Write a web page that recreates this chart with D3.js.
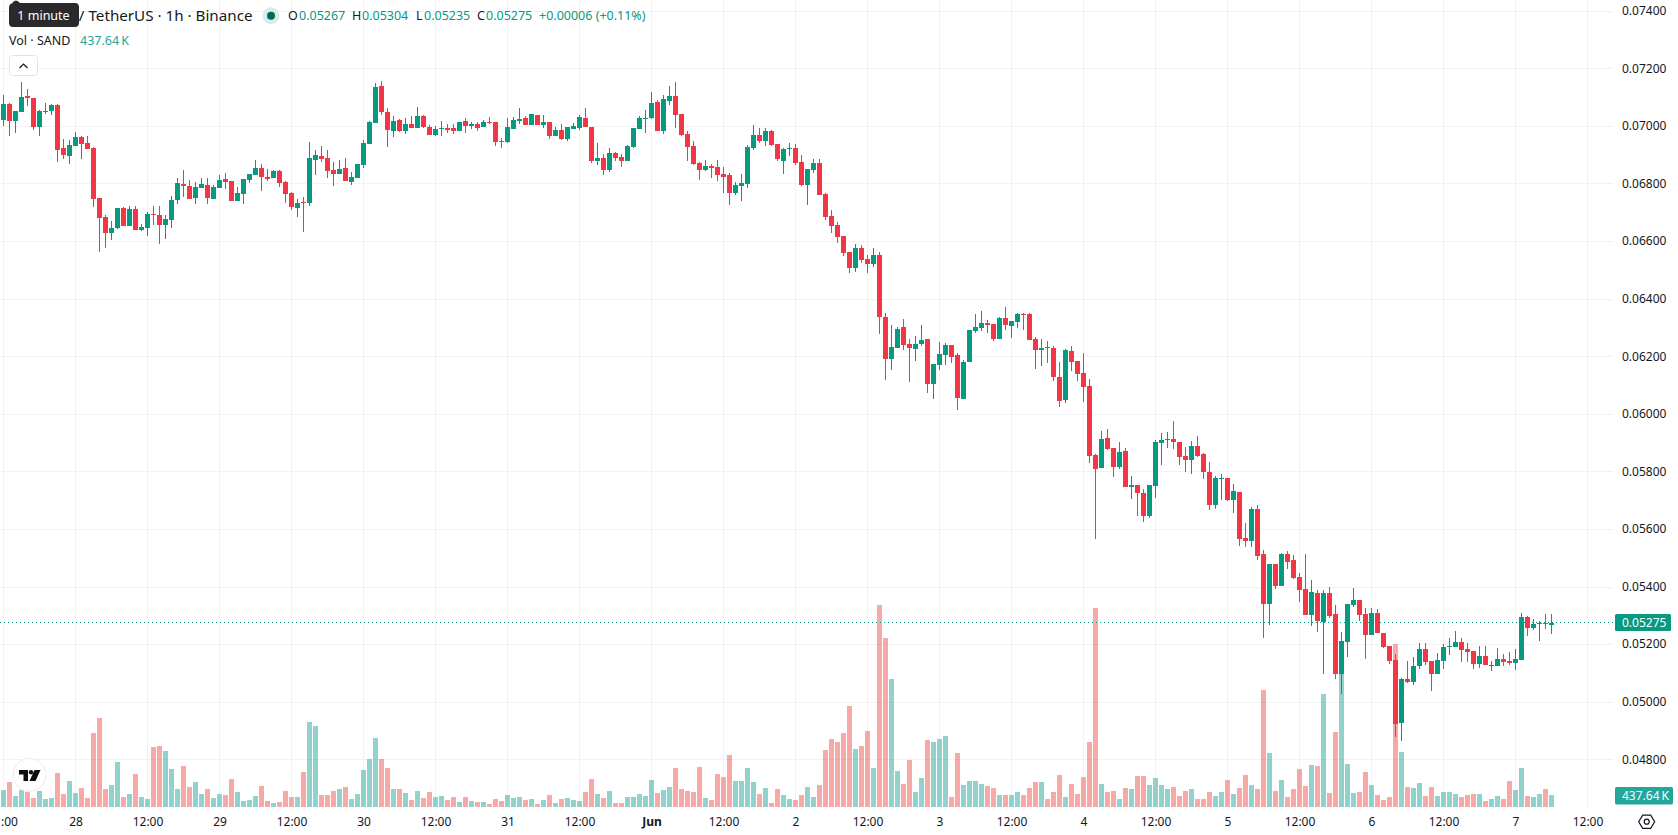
<!DOCTYPE html>
<html>
<head>
<meta charset="utf-8">
<title>SAND / TetherUS 1h</title>
<script src="https://cdn.jsdelivr.net/npm/d3@7"></script>
<style>
  html, body { margin: 0; padding: 0; background: #fff; overflow: hidden; }
  svg { display: block; }
  text { font-family: "Noto Sans", "Open Sans", sans-serif; fill: #131722; }
</style>
</head>
<body>
<svg id="chart" width="1678" height="835"></svg>
<script>
// Hourly candles, in units of the exchange price tick.
const PRICE_TICK = 0.00001;

const opens = [
  7020,7076,7017,7048,7104,7097,6996,7048,7052,7072,
  6923,6895,6930,6961,6941,6923,6750,6684,6628,6645,
  6715,6652,6711,6638,6645,6694,6690,6656,6673,6743,
  6798,6791,6750,6784,6795,6746,6784,6815,6809,6739,
  6763,6812,6829,6854,6822,6819,6843,6805,6767,6715,
  6736,6732,6882,6895,6889,6847,6833,6854,6805,6819,
  6864,6937,7010,7139,7048,6982,7020,6982,7007,6993,
  7034,6996,6968,6989,6993,6993,6982,7017,7000,7007,
  6996,7014,7014,6948,6944,6989,7017,7027,7003,7038,
  7003,7014,6965,6986,6955,6989,6993,7027,6996,6878,
  6889,6847,6906,6892,6878,6927,6989,7024,7027,7083,
  6982,7086,7104,7041,6972,6930,6871,6847,6861,6857,
  6833,6829,6767,6791,6798,6923,6968,6948,6982,6937,
  6878,6920,6923,6875,6795,6847,6871,6763,6687,6656,
  6618,6562,6506,6576,6538,6520,6552,6336,6190,6229,
  6301,6242,6225,6242,6260,6104,6170,6204,6239,6204,
  6051,6180,6288,6298,6315,6312,6260,6333,6305,6319,
  6347,6347,6260,6222,6232,6229,6128,6048,6218,6183,
  6142,6097,5857,5812,5916,5881,5815,5871,5746,5753,
  5725,5645,5749,5899,5909,5913,5902,5854,5840,5888,
  5860,5798,5683,5774,5777,5701,5729,5569,5558,5670,
  5513,5340,5478,5402,5513,5492,5433,5392,5301,5378,
  5277,5378,5305,5096,5208,5336,5353,5305,5232,5308,
  5239,5194,5145,4926,5079,5069,5124,5183,5142,5096,
  5142,5190,5190,5207,5183,5176,5131,5159,5124,5124,
  5148,5142,5135,5145,5294,5256,5270,5273,5267
];

const highs = [
  7107,7078,7052,7152,7128,7097,7055,7079,7076,7076,
  6954,6951,6979,6965,6965,6927,6750,6690,6670,6715,
  6718,6722,6722,6659,6701,6722,6722,6690,6756,6819,
  6847,6812,6805,6819,6819,6795,6829,6836,6809,6788,
  6815,6833,6882,6868,6850,6847,6847,6809,6770,6746,
  6753,6944,6916,6930,6916,6875,6882,6889,6840,6868,
  6951,7017,7149,7156,7062,7034,7024,7027,7034,7066,
  7038,7003,7000,7017,7007,7007,7014,7027,7014,7014,
  7020,7031,7014,6958,7027,7031,7062,7034,7041,7038,
  7038,7014,6996,7007,6996,7010,7038,7062,6996,6941,
  6902,6923,6909,6902,6934,6993,7034,7055,7118,7090,
  7107,7139,7152,7041,6982,6948,6875,6882,6868,6882,
  6857,6836,6805,6833,6934,7003,6993,6993,6986,6937,
  6923,6941,6937,6899,6850,6885,6885,6767,6708,6666,
  6618,6562,6590,6586,6552,6576,6562,6350,6309,6302,
  6329,6260,6270,6308,6260,6173,6249,6246,6239,6211,
  6187,6291,6347,6357,6326,6312,6336,6371,6322,6350,
  6350,6350,6267,6260,6253,6235,6180,6225,6235,6183,
  6211,6121,5860,5940,5947,5881,5902,5881,5784,5753,
  5739,5753,5909,5933,5937,5975,5902,5885,5906,5923,
  5864,5833,5784,5791,5777,5756,5729,5621,5676,5683,
  5527,5478,5478,5517,5524,5510,5447,5513,5423,5388,
  5388,5399,5336,5242,5340,5395,5353,5326,5326,5322,
  5239,5194,5166,5082,5142,5155,5204,5204,5142,5169,
  5201,5221,5246,5221,5204,5176,5194,5194,5142,5187,
  5166,5173,5183,5308,5298,5287,5280,5305,5304
];

const lows = [
  7000,6965,6975,7048,7069,6986,6965,7041,7038,6875,
  6885,6868,6930,6885,6920,6718,6562,6576,6604,6642,
  6652,6652,6638,6635,6618,6656,6590,6607,6645,6729,
  6753,6746,6729,6784,6729,6746,6784,6781,6739,6739,
  6729,6802,6829,6774,6809,6819,6788,6732,6708,6684,
  6632,6722,6829,6875,6819,6791,6833,6809,6795,6819,
  6854,6937,7010,7038,6927,6961,6979,6972,6993,6993,
  6993,6968,6965,6965,6975,6972,6982,6975,6989,6982,
  6996,7007,6930,6923,6941,6989,7007,7003,7003,7003,
  6993,6955,6965,6951,6948,6989,6986,6996,6871,6864,
  6829,6840,6878,6857,6878,6923,6989,6975,7024,6982,
  6972,7072,6993,6965,6878,6864,6812,6843,6819,6809,
  6767,6725,6760,6739,6784,6916,6941,6930,6930,6878,
  6833,6895,6864,6791,6725,6836,6760,6673,6628,6593,
  6548,6489,6493,6524,6489,6510,6277,6117,6152,6229,
  6222,6110,6183,6235,6072,6051,6152,6170,6176,6013,
  6051,6180,6281,6288,6281,6253,6260,6291,6263,6298,
  6291,6256,6156,6166,6176,6114,6024,6038,6149,6114,
  6041,5829,5565,5812,5874,5781,5808,5746,5704,5645,
  5624,5638,5708,5822,5881,5878,5822,5798,5791,5850,
  5774,5666,5670,5701,5697,5656,5541,5538,5538,5492,
  5221,5267,5392,5402,5461,5426,5346,5301,5263,5242,
  5096,5291,5079,5027,5155,5329,5280,5149,5232,5239,
  5187,5131,4878,4864,5065,5058,5114,5128,5037,5096,
  5114,5162,5190,5138,5138,5114,5117,5128,5107,5124,
  5124,5128,5110,5145,5228,5249,5211,5253,5235
];

const closes = [
  7076,7017,7052,7100,7097,6996,7052,7052,7072,6916,
  6899,6934,6961,6937,6920,6746,6680,6628,6645,6715,
  6652,6711,6638,6649,6694,6690,6656,6677,6743,6802,
  6791,6746,6788,6798,6750,6788,6812,6805,6739,6767,
  6815,6833,6854,6822,6815,6843,6802,6763,6718,6732,
  6732,6889,6899,6885,6843,6833,6850,6809,6823,6868,
  6941,7014,7135,7048,6986,7017,6982,7007,6993,7034,
  6996,6968,6989,6993,6986,6982,7014,7000,7007,6993,
  7014,7010,6944,6944,6996,7020,7024,7003,7041,7003,
  7014,6965,6986,6955,6996,7000,7031,6996,6878,6889,
  6847,6906,6889,6878,6930,6993,7027,7027,7079,6982,
  7093,7104,7038,6968,6927,6868,6847,6861,6854,6829,
  6823,6767,6795,6802,6927,6968,6948,6982,6934,6885,
  6920,6923,6871,6795,6850,6871,6760,6684,6652,6614,
  6559,6506,6576,6534,6520,6552,6336,6190,6232,6295,
  6239,6229,6242,6256,6104,6173,6208,6239,6197,6055,
  6180,6291,6301,6315,6308,6260,6333,6308,6322,6347,
  6343,6256,6222,6229,6229,6128,6044,6222,6180,6138,
  6093,5853,5808,5912,5878,5815,5867,5746,5753,5725,
  5645,5753,5902,5909,5913,5902,5850,5840,5888,5854,
  5798,5683,5777,5777,5701,5732,5565,5558,5670,5506,
  5340,5478,5402,5513,5485,5430,5388,5301,5381,5280,
  5378,5298,5096,5211,5340,5353,5301,5232,5308,5239,
  5190,5142,4923,5079,5069,5124,5183,5138,5096,5145,
  5190,5194,5207,5180,5173,5131,5159,5128,5128,5148,
  5138,5135,5148,5294,5256,5270,5273,5270,5275
];

// Traded volume per candle, in thousands of SAND.
const volumes = [
  620,912,401,620,547,328,584,292,328,1240,
  474,948,511,693,328,2699,3246,656,802,1641,
  365,474,1204,365,292,2188,2225,2042,1386,656,
  1495,729,912,474,656,328,474,438,1021,547,
  219,255,401,766,219,146,182,584,365,365,
  1276,3100,2954,438,438,584,656,729,292,474,
  1349,1751,2517,1751,1422,656,656,511,255,584,
  328,547,365,401,255,365,182,365,219,182,
  182,109,292,219,438,328,365,255,292,109,
  255,438,146,292,328,255,219,547,1021,474,
  328,584,146,146,365,365,474,401,985,511,
  620,729,1422,656,584,547,1459,328,255,1204,
  1094,1896,948,948,1422,912,474,693,146,656,
  438,292,255,438,729,365,802,2079,2480,2371,
  2699,3684,2115,2225,2772,1422,7367,6164,4668,1313,
  839,1714,547,1058,2444,2371,2480,2589,365,1969,
  802,948,948,839,766,693,438,438,438,547,
  438,693,912,912,292,547,1167,365,839,474,
  1094,2371,7258,839,547,584,292,693,656,1131,
  1131,802,1058,802,656,729,401,584,656,292,
  292,547,401,547,985,474,693,1167,802,656,
  4267,1969,584,985,365,656,1386,766,1532,1495,
  4121,511,2735,5471,1568,511,547,1276,802,438,
  255,365,5945,2006,729,693,875,401,729,401,
  547,547,474,365,438,474,474,219,292,401,
  292,948,620,1422,401,365,474,656,437.64
];

// Candle indexes of the time axis ticks and the text drawn at each.
const timeTicks = [0,12,24,36,48,60,72,84,96,108,120,132,144,156,168,180,192,204,216,228,240,252,264];
const timeLabels = [":00","28","12:00","29","12:00","30","12:00","31","12:00","Jun","12:00","2",
                    "12:00","3","12:00","4","12:00","5","12:00","6","12:00","7","12:00"];
const priceTicks = [0.074,0.072,0.07,0.068,0.066,0.064,0.062,0.06,0.058,0.056,0.054,0.052,0.05,0.048];

const lastPrice = 0.05275;
const lastVolumeLabel = "437.64\u2009K";
const ohlcLegend = [["O","0.05267"],["H","0.05304"],["L","0.05235"],["C","0.05275"]];
const changeLegend = "+0.00006 (+0.11%)";

const UP = "#089981", DOWN = "#f23645", GRID = "#f2f2f3";
const VOL_UP = "#26a69a", VOL_DOWN = "#ef5350";

const candles = opens.map((o, i) => ({
  i, open: o * PRICE_TICK, high: highs[i] * PRICE_TICK, low: lows[i] * PRICE_TICK,
  close: closes[i] * PRICE_TICK, volume: volumes[i]
}));

const svg = d3.select("#chart");

const x = d3.scaleLinear().domain([0, 264]).range([3.5, 1587.5]);
const y = d3.scaleLinear().domain([0.072, 0.048]).range([68.3, 759.3]);
const v = d3.scaleLinear().domain([0, 7367]).range([807, 605]);
const px = n => Math.round(n);
const isUp = d => d.close >= d.open;

// Grid
const grid = svg.append("g").attr("stroke", GRID).attr("stroke-width", 1);
grid.selectAll("line.h").data(priceTicks).join("line").attr("class", "h")
  .attr("x1", 0).attr("x2", 1613)
  .attr("y1", d => px(y(d)) + 0.5).attr("y2", d => px(y(d)) + 0.5);
grid.selectAll("line.v").data(timeTicks).join("line").attr("class", "v")
  .attr("x1", d => x(d)).attr("x2", d => x(d))
  .attr("y1", 0).attr("y2", 807);

// Volume pane, sharing the candle area
svg.append("g").attr("shape-rendering", "crispEdges")
  .selectAll("rect").data(candles).join("rect")
  .attr("x", d => x(d.i) - 2.5).attr("width", 5)
  .attr("y", d => px(v(d.volume))).attr("height", d => 807 - px(v(d.volume)))
  .attr("fill", d => isUp(d) ? VOL_UP : VOL_DOWN).attr("fill-opacity", 0.5);

// Last price line
const lastY = Math.floor(y(lastPrice)) + 0.5;
svg.append("line")
  .attr("x1", 0).attr("x2", 1613)
  .attr("y1", lastY).attr("y2", lastY)
  .attr("stroke", UP).attr("stroke-width", 1).attr("stroke-dasharray", "1 3");

// Candles: wick first, then body
const marks = svg.append("g").attr("shape-rendering", "crispEdges");
marks.selectAll("rect.wick").data(candles).join("rect").attr("class", "wick")
  .attr("x", d => x(d.i) - 0.5).attr("width", 1)
  .attr("y", d => px(y(d.high)))
  .attr("height", d => Math.max(1, px(y(d.low)) - px(y(d.high))))
  .attr("fill", d => isUp(d) ? UP : DOWN);
marks.selectAll("rect.body").data(candles).join("rect").attr("class", "body")
  .attr("x", d => x(d.i) - 2.5).attr("width", 5)
  .attr("y", d => px(y(Math.max(d.open, d.close))))
  .attr("height", d => Math.max(1, px(y(Math.min(d.open, d.close))) - px(y(Math.max(d.open, d.close)))))
  .attr("fill", d => isUp(d) ? UP : DOWN);

// Price axis
const priceAxis = svg.append("g").attr("transform", "translate(1622,0)")
  .call(d3.axisRight(y).tickValues(priceTicks).tickSize(0).tickPadding(0)
    .tickFormat(d3.format(".5f")));
priceAxis.select(".domain").remove();
priceAxis.selectAll("text").style("font-size", "12px").style("font-family", null);

// Time axis; the leading label is the part left visible at the pane's edge
const timeAxis = svg.append("g").attr("transform", "translate(0,817.5)")
  .call(d3.axisBottom(x).tickValues(timeTicks).tickSize(0).tickPadding(0)
    .tickFormat((d, i) => timeLabels[i]));
timeAxis.select(".domain").remove();
timeAxis.selectAll("text").style("font-size", "12px").style("font-family", null)
  .style("font-weight", (d, i) => timeLabels[i] === "Jun" ? 700 : 400)
  .attr("dx", (d, i) => i === 0 ? 5.5 : 0);

// Value tags on the price axis
function tag(top, width, h, fill, label) {
  svg.append("rect").attr("x", 1615).attr("y", top).attr("width", width).attr("height", h)
    .attr("rx", 1.5).attr("fill", fill);
  svg.append("text").attr("x", 1622).attr("y", top + h / 2 + 4.2)
    .style("font-size", "12px").style("fill", "#fff").text(label);
}
tag(614, 56, 17, UP, d3.format(".5f")(lastPrice));
tag(787, 58, 17.5, VOL_UP, lastVolumeLabel);

// Legend rows
svg.append("text").attr("x", 252.5).attr("y", 21).attr("text-anchor", "end")
  .style("font-size", "15.2px").text("SAND / TetherUS · 1h · Binance");
svg.append("circle").attr("cx", 271).attr("cy", 15.7).attr("r", 8.5).attr("fill", "#d9eeea");
svg.append("circle").attr("cx", 271).attr("cy", 15.7).attr("r", 4).attr("fill", "#006b5b");

const legendX = [288, 352, 416, 477];
const legendValueX = [299, 362, 424, 486];
ohlcLegend.forEach(([k, val], i) => {
  svg.append("text").attr("x", legendX[i]).attr("y", 20.3).style("font-size", "12.5px").text(k);
  svg.append("text").attr("x", legendValueX[i]).attr("y", 20.3)
    .style("font-size", "12.5px").style("fill", UP).text(val);
});
svg.append("text").attr("x", 539).attr("y", 20.3).style("font-size", "12.5px").style("fill", UP).text(changeLegend);

svg.append("text").attr("x", 9).attr("y", 44.8).style("font-size", "12.5px").text("Vol · SAND");
svg.append("text").attr("x", 80).attr("y", 44.8).style("font-size", "12.5px").style("fill", VOL_UP)
  .text(lastVolumeLabel);

// Collapse button
svg.append("rect").attr("x", 9.5).attr("y", 55.5).attr("width", 28).attr("height", 20).attr("rx", 3)
  .attr("fill", "#fff").attr("stroke", "#e0e3eb");
svg.append("path").attr("d", "M19.5 68 L23.5 64 L27.5 68").attr("fill", "none")
  .attr("stroke", "#131722").attr("stroke-width", 1.2);

// Hover tooltip over the start of the title
svg.append("path").attr("d", "M9 8 Q9 3 14 3 L12 3 Q16 -2 20 3 L75 3 Q79 3 79 7 L79 23 Q79 27 75 27 L13 27 Q9 27 9 23 Z")
  .attr("fill", "#2a2a2c");
svg.append("text").attr("x", 43.5).attr("y", 20).attr("text-anchor", "middle")
  .style("font-size", "12.5px").style("fill", "#fff").text("1 minute");

// Brand badge
svg.append("circle").attr("cx", 29.5).attr("cy", 775).attr("r", 16.5)
  .attr("fill", "#fff").attr("stroke", "#ebebeb").attr("stroke-width", 1);
svg.append("path").attr("d", "M19 770 H28 V781 H23.5 V774.5 H19 Z").attr("fill", "#0c0c0c");
svg.append("circle").attr("cx", 31).attr("cy", 772.3).attr("r", 2.2).attr("fill", "#0c0c0c");
svg.append("path").attr("d", "M34.5 770 H40.5 L35.5 781 H29.5 Z").attr("fill", "#0c0c0c");

// Settings glyph
const hex = d3.range(6).map(k => {
  const a = Math.PI / 3 * k;
  return [1646.7 + 8 * Math.cos(a), 821.7 + 7.6 * Math.sin(a)];
});
svg.append("path").attr("d", d3.line()(hex) + "Z").attr("fill", "none")
  .attr("stroke", "#131722").attr("stroke-width", 1.2);
svg.append("circle").attr("cx", 1646.7).attr("cy", 821.7).attr("r", 2.5).attr("fill", "none")
  .attr("stroke", "#131722").attr("stroke-width", 1.2);
</script>
</body>
</html>
